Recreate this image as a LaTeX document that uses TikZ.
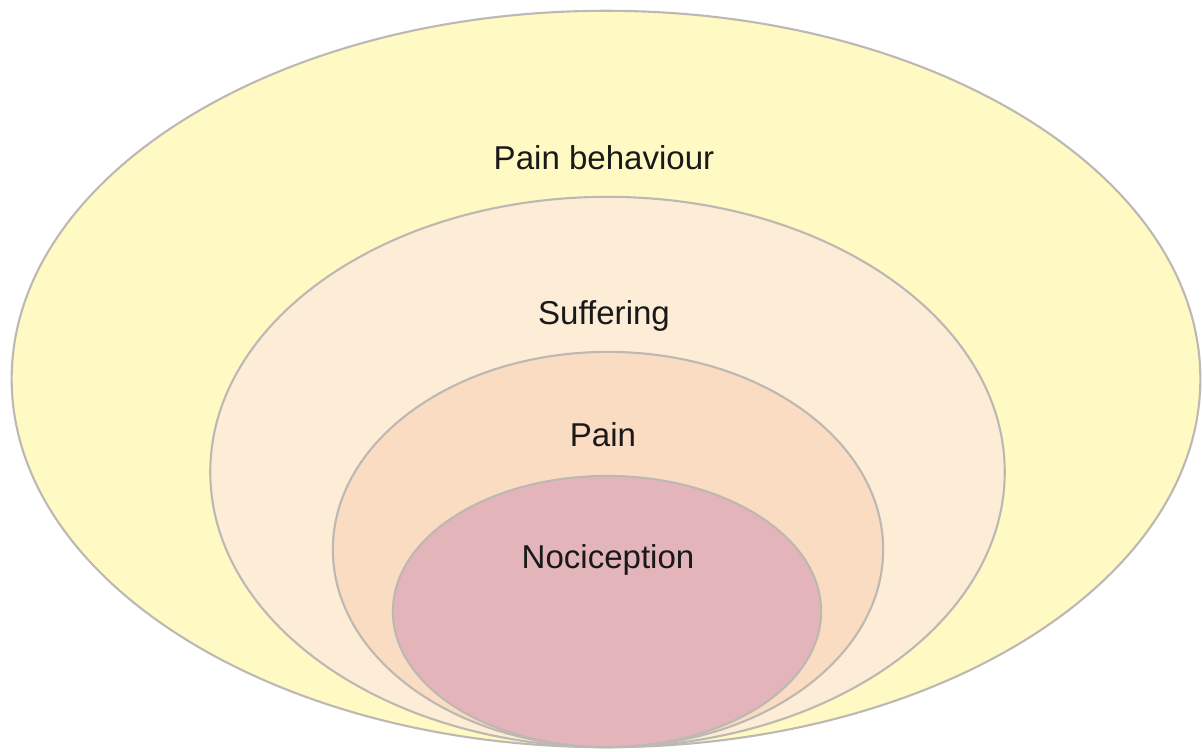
\documentclass[tikz,border=0pt]{standalone}
\usepackage{fontspec}
\setmainfont{Liberation Sans}
\usepackage{xcolor}
\usetikzlibrary{shapes.geometric}
\definecolor{Behav}{HTML}{FFFAC4}
\definecolor{Suffer}{HTML}{FDEDD7}
\definecolor{PainC}{HTML}{FADCC3}
\definecolor{Noci}{HTML}{E3B5BB}
\definecolor{Rim}{HTML}{BDB8B2}

\begin{document}
\begin{tikzpicture}[x=0.01cm,y=-0.01cm,font=\fontsize{9.4}{11}\selectfont]
  \tikzstyle{ring}=[draw=Rim,line width=0.6pt,ellipse,inner sep=0pt]
  \tikzstyle{lbl}=[anchor=base,inner sep=0pt,text=black!90]
  \useasboundingbox (0,0) rectangle (1203,752);
  % nested ellipses, all touching at the bottom
  \node[ring,fill=Behav,minimum width=11.88cm,minimum height=7.36cm] (behav) at (606,379) {};
  \node[ring,fill=Suffer,minimum width=7.94cm,minimum height=5.50cm] (suff) at (607.5,472) {};
  \node[ring,fill=PainC,minimum width=5.50cm,minimum height=3.95cm] (pain) at (608,549.5) {};
  \node[ring,fill=Noci,minimum width=4.28cm,minimum height=2.71cm] (noci) at (607,611.5) {};
  % labels
  \node[lbl] (behavtxt) at (604,170) {Pain behaviour};
  \node[lbl] (sufftxt)  at (604,325) {Suffering};
  \node[lbl] (paintxt)  at (603,447) {Pain};
  \node[lbl] (nocitxt)  at (608,568) {Nociception};
\end{tikzpicture}
\end{document}
